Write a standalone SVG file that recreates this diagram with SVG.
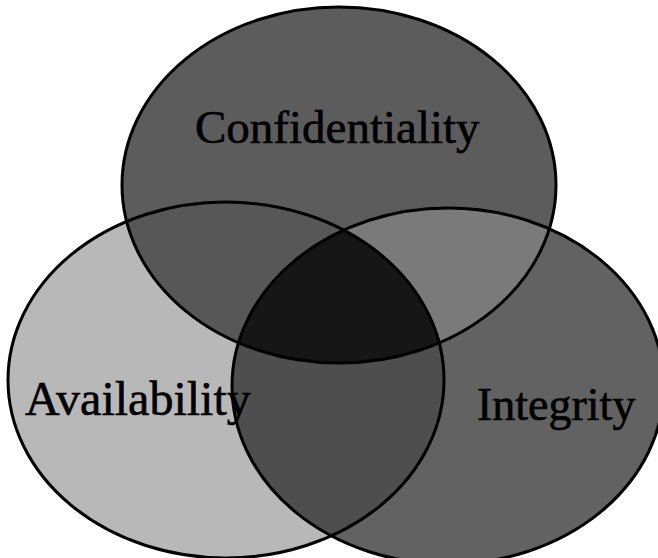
<svg xmlns="http://www.w3.org/2000/svg" width="658" height="558" viewBox="0 0 658 558">
  <style>
    .outline { fill: none; stroke: #000; stroke-width: 3; }
    .label { font-family: "Liberation Serif", "Times New Roman", serif; fill: #000; stroke: #000; stroke-width: 0.6; }
  </style>
  <defs>
    <ellipse id="eTop" cx="339" cy="185" rx="217" ry="178"/>
    <ellipse id="eLeft" cx="226" cy="380" rx="218" ry="178"/>
    <ellipse id="eRight" cx="448" cy="386" rx="216" ry="178"/>
    <clipPath id="cTop"><use href="#eTop"/></clipPath>
    <clipPath id="cLeft"><use href="#eLeft"/></clipPath>
    <clipPath id="cRight"><use href="#eRight"/></clipPath>
  </defs>
  <rect x="0" y="0" width="658" height="558" fill="#ffffff"/>

  <!-- base fills -->
  <g id="fills">
    <use href="#eLeft" fill="#b8b8b8"/>
    <use href="#eRight" fill="#626262"/>
    <g clip-path="url(#cLeft)"><use href="#eRight" fill="#4e4e4e"/></g>
    <use href="#eTop" fill="#5c5c5c"/>
    <g clip-path="url(#cTop)"><use href="#eLeft" fill="#575757"/></g>
    <g clip-path="url(#cTop)"><use href="#eRight" fill="#7a7a7a"/></g>
    <g clip-path="url(#cTop)"><g clip-path="url(#cLeft)"><use href="#eRight" fill="#161616"/></g></g>
  </g>

  <g id="node-availability">
    <use href="#eLeft" class="outline"/>
    <text class="label" x="25" y="415" font-size="48">Availability</text>
  </g>
  <g id="node-integrity">
    <use href="#eRight" class="outline"/>
    <text class="label" x="477" y="420" font-size="46">Integrity</text>
  </g>
  <g id="node-confidentiality">
    <use href="#eTop" class="outline"/>
    <text class="label" x="195" y="143" font-size="47">Confidentiality</text>
  </g>
  <g id="connectors"/>
</svg>
